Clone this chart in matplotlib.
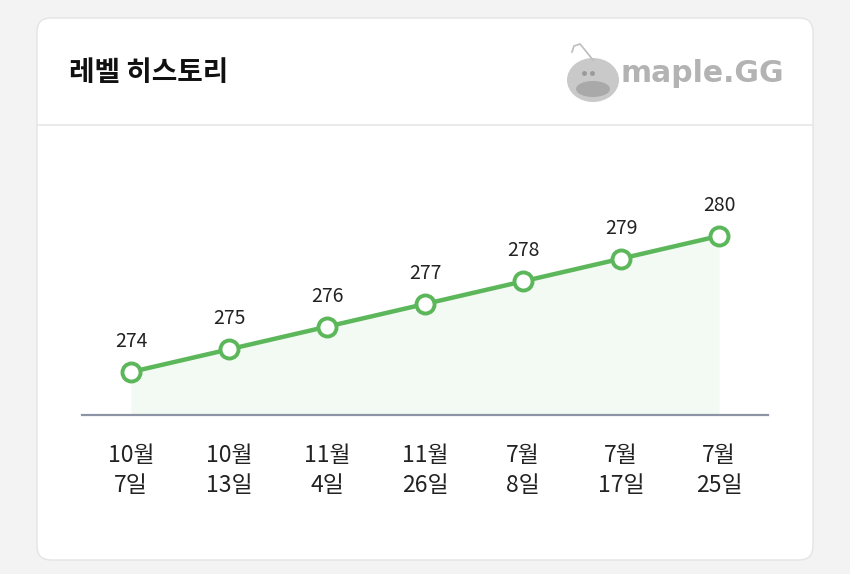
import matplotlib.pyplot as plt
from matplotlib.patches import FancyBboxPatch, Ellipse
from matplotlib.lines import Line2D

plt.rcParams['font.family'] = ['Noto Sans CJK KR', 'DejaVu Sans']

# Data
dates = ["10월\n7일", "10월\n13일", "11월\n4일", "11월\n26일", "7월\n8일", "7월\n17일", "7월\n25일"]
levels = [274, 275, 276, 277, 278, 279, 280]

green = "#5cb65a"
W, H = 850, 574

fig = plt.figure(figsize=(8.5, 5.74), dpi=100)
fig.patch.set_facecolor("#f3f3f3")

# Card background in pixel-ish figure coords
bg = fig.add_axes([0, 0, 1, 1])
bg.set_xlim(0, W)
bg.set_ylim(H, 0)
bg.axis("off")
card = FancyBboxPatch((37, 18), 776, 542, boxstyle="round,pad=0,rounding_size=14",
                      facecolor="white", edgecolor="#e4e4e4", linewidth=1.0)
bg.add_patch(card)
bg.add_line(Line2D([37, 813], [125, 125], color="#e6e6e6", linewidth=1.2))
bg.text(69, 73, "레벨 히스토리", fontsize=20, fontweight="bold", color="#111111",
        ha="left", va="center")

# logo
bg.add_patch(Ellipse((593, 80), 52, 44, facecolor="#c9c9c9", edgecolor="none"))
bg.add_patch(Ellipse((593, 89), 34, 16, facecolor="#a9a9a9", edgecolor="none"))
bg.plot([584, 592], [73, 73], "o", color="#9a9a9a", markersize=2.5)
bg.plot([572, 574, 580, 585, 593], [52, 46, 44, 50, 60], color="#bdbdbd", linewidth=1.2)
bg.text(621, 74, "maple.GG", fontsize=21.5, fontweight="bold", color="#b3b3b3",
        family="DejaVu Sans", ha="left", va="center")

# Chart axes
ax = fig.add_axes([82 / W, (H - 415) / H, 686 / W, 255 / H])
ax.set_facecolor("none")
x = list(range(len(levels)))
ymin = 274 - 43 / 22.67
ymax = 280 + 76 / 22.67
ax.fill_between(x, levels, ymin, color="#f3faf3", linewidth=0)
ax.plot(x, levels, color=green, linewidth=3.2, marker="o", markersize=13,
        markerfacecolor="white", markeredgecolor=green, markeredgewidth=2.8,
        solid_capstyle="round", zorder=3)
for xi, v in zip(x, levels):
    ax.annotate(str(v), (xi, v), xytext=(0, 22), textcoords="offset points",
                ha="center", va="center", fontsize=14, color="#222222")
ax.set_xlim(-0.5, len(levels) - 0.5)
ax.set_ylim(ymin, ymax)
for s in ["top", "right", "left"]:
    ax.spines[s].set_visible(False)
ax.spines["bottom"].set_color("#8c94a6")
ax.spines["bottom"].set_linewidth(1.6)
ax.set_yticks([])
ax.set_xticks(x)
ax.set_xticklabels(dates, fontsize=16.5, color="#222222", linespacing=1.4)
ax.tick_params(axis="x", length=0, pad=21)

fig.savefig("out.png", dpi=100, facecolor=fig.get_facecolor())
